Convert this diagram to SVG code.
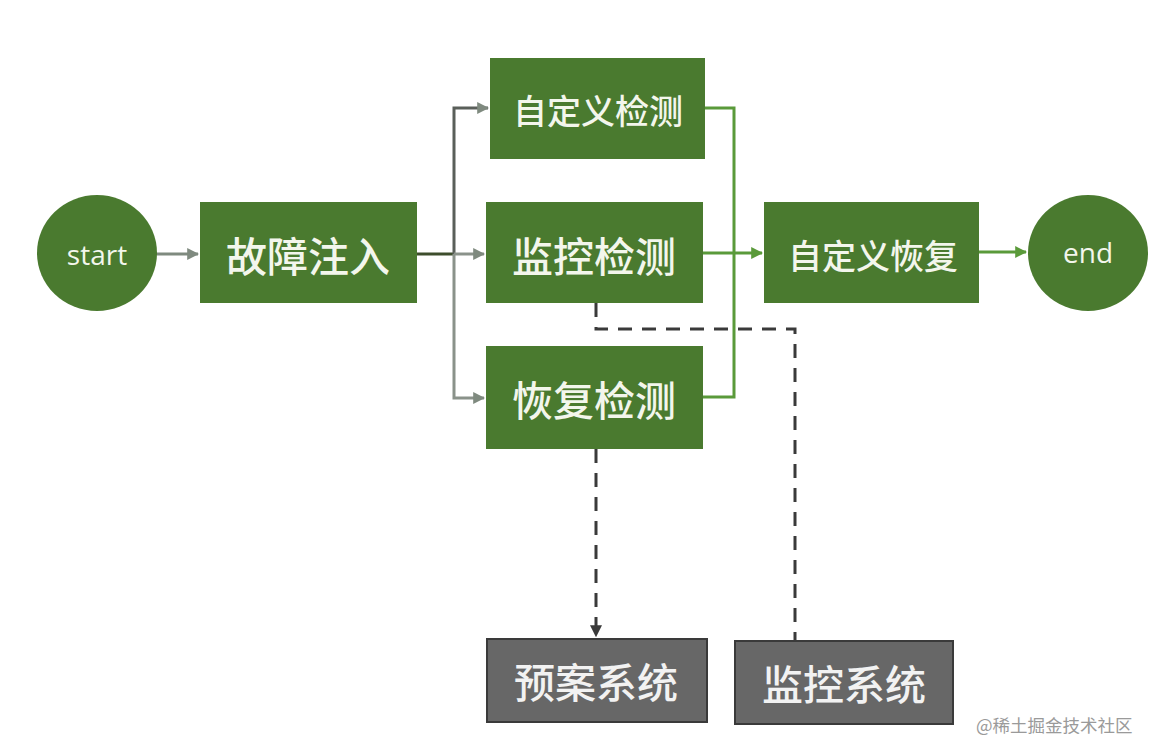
<svg xmlns="http://www.w3.org/2000/svg" width="1156" height="756" viewBox="0 0 1156 756">
<defs>
<style>
.g{fill:#4a7a2f}
.s{fill:#676767;stroke:#3a3a3a;stroke-width:2}
.t{font-family:"Noto Sans CJK SC","Noto Sans",sans-serif;fill:#f3f6ec;text-anchor:middle;dominant-baseline:central;font-weight:500}
.tg{font-family:"Noto Sans CJK SC","Noto Sans",sans-serif;fill:#f2f2f2;text-anchor:middle;dominant-baseline:central;font-weight:500}
.e{font-family:"Open Sans","Noto Sans",sans-serif;fill:#f3f6ec;text-anchor:middle;dominant-baseline:central;font-size:28px;font-weight:500}
.c{fill:none;stroke-width:3}
.d{fill:none;stroke:#3a3a3a;stroke-width:3;stroke-dasharray:14 10}
</style>
<marker id="ag" viewBox="0 0 10 10" refX="9" refY="5" markerWidth="4" markerHeight="4" orient="auto" markerUnits="strokeWidth"><path d="M0,0L10,5L0,10z" fill="#7f8a7f"/></marker>
<marker id="agn" viewBox="0 0 10 10" refX="9" refY="5" markerWidth="4" markerHeight="4" orient="auto" markerUnits="strokeWidth"><path d="M0,0L10,5L0,10z" fill="#5a9a3a"/></marker>
<marker id="ad" viewBox="0 0 10 10" refX="9" refY="5" markerWidth="4" markerHeight="4" orient="auto" markerUnits="strokeWidth"><path d="M0,0L10,5L0,10z" fill="#3a3a3a"/></marker>
</defs>
<rect width="1156" height="756" fill="#ffffff"/>
<g id="connectors">
<path class="c" stroke="#7f8a7f" d="M157,254 H198" marker-end="url(#ag)"/>
<path class="c" stroke="#3d4d2c" d="M417,254 H454"/>
<path class="c" stroke="#5a5f5a" d="M454,254 V108 H488" marker-end="url(#ag)"/>
<path class="c" stroke="#8a928a" d="M454,254 H484" marker-end="url(#ag)"/>
<path class="c" stroke="#8a928a" d="M454,254 V398 H484" marker-end="url(#ag)"/>
<path class="c" stroke="#5a9a3a" d="M705,108 H734 V397 H703"/>
<path class="c" stroke="#5a9a3a" d="M703,253 H762" marker-end="url(#agn)"/>
<path class="c" stroke="#5a9a3a" d="M979,252 H1026" marker-end="url(#agn)"/>
<path class="d" d="M596,303 V329 H795 V640"/>
<path class="d" d="M596,449 V636" marker-end="url(#ad)"/>
</g>
<g id="start"><ellipse class="g" cx="97" cy="253" rx="60" ry="58"/><text class="e" x="97" y="254">start</text></g>
<g id="inject"><rect class="g" x="200" y="202" width="217" height="101"/><text class="t" x="308" y="254" font-size="41">故障注入</text></g>
<g id="custom-detect"><rect class="g" x="490" y="58" width="215" height="101"/><text class="t" x="598" y="109" font-size="34">自定义检测</text></g>
<g id="monitor-detect"><rect class="g" x="486" y="202" width="217" height="101"/><text class="t" x="594" y="254" font-size="41">监控检测</text></g>
<g id="recover-detect"><rect class="g" x="486" y="346" width="217" height="103"/><text class="t" x="594" y="398" font-size="41">恢复检测</text></g>
<g id="custom-recover"><rect class="g" x="764" y="202" width="215" height="101"/><text class="t" x="873" y="254" font-size="34">自定义恢复</text></g>
<g id="end"><ellipse class="g" cx="1088" cy="253" rx="60" ry="58"/><text class="e" x="1088" y="252">end</text></g>
<g id="plan-system"><rect class="s" x="487" y="639" width="220" height="83"/><text class="tg" x="596" y="680" font-size="41">预案系统</text></g>
<g id="monitor-system"><rect class="s" x="735" y="641" width="218" height="83"/><text class="tg" x="844" y="682" font-size="41">监控系统</text></g>
<text x="976" y="724" font-family="Noto Sans CJK SC,sans-serif" font-size="17.5" fill="#9a9a9a" dominant-baseline="central">@稀土掘金技术社区</text>
</svg>
